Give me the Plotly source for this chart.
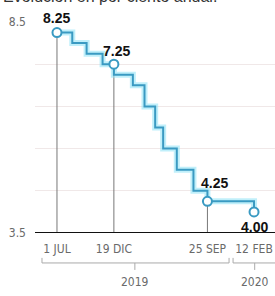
import plotly.graph_objects as go
import pandas as pd

# ---- data ----
step_dates = ["2019-07-01", "2019-08-16", "2019-09-28", "2019-11-15", "2019-12-19",
              "2020-02-14", "2020-03-20", "2020-04-21", "2020-05-15", "2020-06-25",
              "2020-08-14", "2020-09-25", "2021-02-12"]
step_rates = [8.25, 8.00, 7.75, 7.50, 7.25, 7.00, 6.50, 6.00, 5.50, 5.00, 4.50, 4.25, 4.00]

marker_dates = ["2019-07-01", "2019-12-19", "2020-09-25", "2021-02-12"]
marker_rates = [8.25, 7.50, 4.25, 4.00]          # as drawn in the reference
marker_labels = ["8.25", "7.25", "4.25", "4.00"]

tick_dates = ["2019-07-01", "2019-12-19", "2020-09-25", "2021-02-12"]
tick_labels = ["1 JUL", "19 DIC", "25 SEP", "12 FEB"]

year_labels = ["2019", "2020"]
year_spans = [("2019-05-17", "2020-11-29"), ("2020-12-11", "2021-05-30")]
year_mid = ["2020-02-20", "2021-02-14"]

title = "Evolución en por ciento anual."

LINE = "#3a9ac2"
GLOW = "rgba(140,225,245,0.55)"
GRAY = "#777777"
TICKFONT = dict(family="DejaVu Sans Condensed, Roboto, sans-serif", size=12, color="#6a6a6a")

x_start = pd.Timestamp("2019-07-01") - pd.Timedelta(days=66)
x_end = pd.Timestamp("2019-07-01") + pd.Timedelta(days=655)

fig = go.Figure()

# drop lines
for d, v in zip(marker_dates[:3], marker_rates[:3]):
    fig.add_trace(go.Scatter(x=[d, d], y=[3.5, v], mode="lines",
                             line=dict(color=GRAY, width=1), hoverinfo="skip",
                             showlegend=False))

# glow + step line
fig.add_trace(go.Scatter(x=step_dates, y=step_rates, mode="lines", line_shape="hv",
                         line=dict(color=GLOW, width=6), showlegend=False, hoverinfo="skip"))
fig.add_trace(go.Scatter(x=step_dates, y=step_rates, mode="lines", line_shape="hv",
                         line=dict(color=LINE, width=2), showlegend=False))

# markers
fig.add_trace(go.Scatter(x=marker_dates, y=marker_rates, mode="markers",
                         marker=dict(symbol="circle", size=9, color="white",
                                     line=dict(color=LINE, width=2)),
                         showlegend=False))

label_shift = [(0, 15), (3, 13), (7, 18), (0, -15)]
for d, v, t, (dx, dy) in zip(marker_dates, marker_rates, marker_labels, label_shift):
    fig.add_annotation(x=d, y=v, text="<b>%s</b>" % t, showarrow=False,
                       xshift=dx, yshift=dy,
                       font=dict(family="Liberation Sans", size=14, color="#111111"))

# axis line at 3.5
fig.add_shape(type="line", xref="paper", yref="y", x0=0, x1=1, y0=3.5, y1=3.5,
              line=dict(color="#111111", width=2))

# year brackets
for lab, (a, b), m in zip(year_labels, year_spans, year_mid):
    fig.add_shape(type="line", xref="x", yref="paper", x0=a, x1=b, y0=-0.142, y1=-0.142,
                  line=dict(color="#aaaaaa", width=1))
    fig.add_shape(type="line", xref="x", yref="paper", x0=a, x1=a, y0=-0.142, y1=-0.118,
                  line=dict(color="#aaaaaa", width=1))
    fig.add_shape(type="line", xref="x", yref="paper", x0=b, x1=b, y0=-0.142, y1=-0.118,
                  line=dict(color="#aaaaaa", width=1))
    fig.add_shape(type="line", xref="x", yref="paper", x0=m, x1=m, y0=-0.142, y1=-0.175,
                  line=dict(color="#aaaaaa", width=1))
    fig.add_annotation(x=m, y=-0.232, xref="x", yref="paper", text=lab, showarrow=False,
                       yanchor="middle", font=TICKFONT)

fig.add_annotation(x=0, y=1.12, xref="paper", yref="paper", xanchor="left",
                   yanchor="middle", text=title, showarrow=False, xshift=-34,
                   font=dict(family="Liberation Sans", size=16, color="#333333"))

fig.update_layout(
    width=275, height=296,
    margin=dict(l=35, r=0, t=22, b=63),
    paper_bgcolor="white", plot_bgcolor="white",
    xaxis=dict(type="date", range=[x_start, x_end], tickvals=tick_dates,
               ticktext=tick_labels, showgrid=False, zeroline=False,
               tickfont=TICKFONT, ticks="", ticklabelstandoff=7, fixedrange=True,
               automargin=False),
    yaxis=dict(range=[3.5, 8.5], tickvals=[3.5, 4.5, 5.5, 6.5, 7.5, 8.5],
               ticktext=["3.5", "", "", "", "", "8.5"], showgrid=True,
               gridcolor="#f0e8e8", gridwidth=1, zeroline=False, tickfont=TICKFONT,
               ticklabelstandoff=8, fixedrange=True, automargin=False),
)

fig.write_html("out.html", config={"displayModeBar": False},
               post_script="document.body.style.margin='0';document.body.style.overflow='hidden';")
